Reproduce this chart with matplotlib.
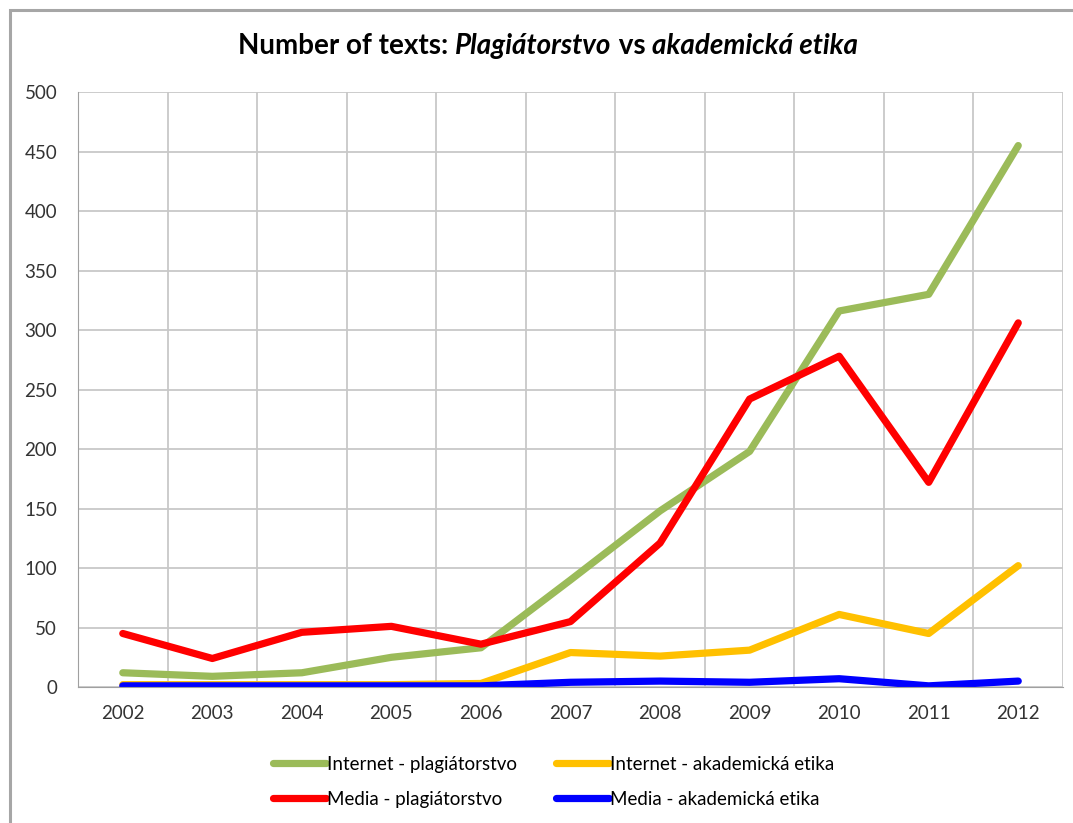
import matplotlib
matplotlib.use('Agg')
import matplotlib.pyplot as plt
from matplotlib.offsetbox import TextArea, HPacker, AnchoredOffsetbox
from matplotlib.patches import Rectangle
import numpy as np

years = [2002, 2003, 2004, 2005, 2006, 2007, 2008, 2009, 2010, 2011, 2012]
internet_plag = [12, 9, 12, 25, 33, 90, 148, 198, 316, 330, 455]
internet_etika = [2, 2, 2, 2, 3, 29, 26, 31, 61, 45, 102]
media_plag = [45, 24, 46, 51, 36, 55, 121, 242, 278, 172, 306]
media_etika = [1, 1, 1, 1, 1, 4, 5, 4, 7, 1, 5]

plt.rcParams['font.family'] = ['Lato', 'DejaVu Sans']

fig = plt.figure(figsize=(10.73, 8.23), dpi=100)
# outer chart border (cut off at right and bottom)
fig.patches.append(Rectangle((0.0093, -0.02), 1.1, 1.0078, transform=fig.transFigure,
                             fill=False, edgecolor='#a6a6a6', linewidth=2.2))
ax = fig.add_axes([0.0727, 0.1652, 0.918, 0.7230])

lw = 5.2
style = dict(lw=lw, solid_capstyle='round', solid_joinstyle='round')
l_green, = ax.plot(years, internet_plag, color='#9BBB59', label='Internet - plagiátorstvo', **style)
l_yellow, = ax.plot(years, internet_etika, color='#FFC000', label='Internet - akademická etika', **style)
l_red, = ax.plot(years, media_plag, color='#FF0000', label='Media - plagiátorstvo', **style)
l_blue, = ax.plot(years, media_etika, color='#0000FF', label='Media - akademická etika', **style)

ax.set_xlim(2001.5, 2012.5)
ax.set_ylim(0, 500)
ax.set_yticks(np.arange(0, 501, 50))
ax.set_xticks(years)
ax.set_xticks(np.arange(2001.5, 2013, 1), minor=True)
ax.grid(True, which='major', axis='y', color='#c8c8c8', lw=1.3)
ax.grid(True, which='minor', axis='x', color='#c8c8c8', lw=1.3)
ax.tick_params(axis='both', which='both', length=0, labelsize=13.5, colors='#333333')
ax.tick_params(axis='x', pad=13)
ax.tick_params(axis='y', pad=15)
for s in ['top', 'right']:
    ax.spines[s].set_visible(False)
for s in ['left', 'bottom']:
    ax.spines[s].set_color('#a0a0a0')
ax.set_axisbelow(True)

# title with mixed styles
parts = [('Number of texts: ', 'normal'), ('Plagiátorstvo', 'italic'),
         (' vs ', 'normal'), ('akademická etika', 'italic')]
areas = [TextArea(t, textprops=dict(fontsize=20, fontweight='bold', fontstyle=st, color='black'))
         for t, st in parts]
box = HPacker(children=areas, align='baseline', pad=0, sep=0)
anch = AnchoredOffsetbox(loc='center', child=box, frameon=False,
                         bbox_to_anchor=(0.511, 0.944), bbox_transform=fig.transFigure)
fig.add_artist(anch)

leg = fig.legend([l_green, l_red, l_yellow, l_blue],
                 [l_green.get_label(), l_red.get_label(), l_yellow.get_label(), l_blue.get_label()],
                 loc='center', bbox_to_anchor=(0.516, 0.05), ncol=2, frameon=False,
                 fontsize=13.5, handlelength=2.8, handletextpad=0.05, columnspacing=2.1,
                 labelspacing=0.95)

fig.savefig('out.png', dpi=100)
